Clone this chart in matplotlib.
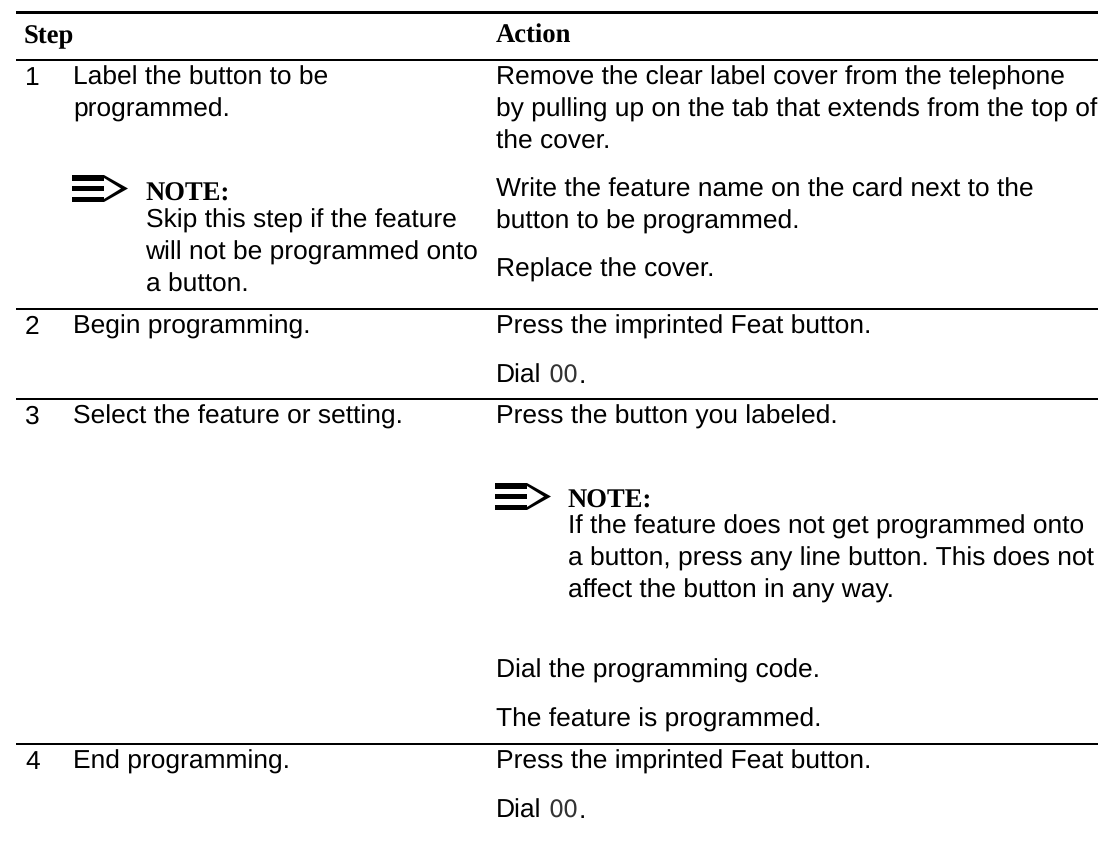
import matplotlib
matplotlib.use("Agg")
import matplotlib.pyplot as plt
from matplotlib.patches import Polygon, Rectangle

plt.rcParams["text.hinting"] = "no_hinting"
plt.rcParams["text.hinting_factor"] = 8

W, H = 1098, 868
SANS = "Liberation Sans"
SERIF = "Liberation Serif"

headers = ["Step", "Action"]
step_numbers = ["1", "2", "3", "4"]
step_texts = [
    "Label the button to be", "programmed.",
    "Begin programming.", "Select the feature or setting.", "End programming.",
]
left_note = ["Skip this step if the feature", "will not be programmed onto", "a button."]
action_texts = [
    "Remove the clear label cover from the telephone",
    "by pulling up on the tab that extends from the top of",
    "the cover.",
    "Write the feature name on the card next to the",
    "button to be programmed.",
    "Replace the cover.",
    "Press the imprinted Feat button.",
    "Press the button you labeled.",
    "Dial the programming code.",
    "The feature is programmed.",
    "Press the imprinted Feat button.",
]
right_note = [
    "If the feature does not get programmed onto",
    "a button, press any line button. This does not",
    "affect the button in any way.",
]
note_label = "NOTE:"
code = "00"

fig = plt.figure(figsize=(W / 100, H / 100), dpi=100)
ax = fig.add_axes([0, 0, 1, 1])
ax.set_xlim(0, W)
ax.set_ylim(H, 0)
ax.axis("off")

FS = 19.0
HEAD = 19.2
def t(x, y, s, family=SANS, weight="normal", size=FS, color="#000000"):
    ax.text(x, y, s, family=family, weight=weight, fontsize=size, va="baseline", ha="left", color=color)

def rule(y, lw):
    ax.add_patch(Rectangle((16, y - lw / 2), W - 16, lw, fc="black", ec="none"))

def arrow(x, y):
    for dy in (0, 10.5, 21.5):
        ax.add_patch(Rectangle((x, y + dy), 32, 5.5, fc="black", ec="none"))
    ax.add_patch(Polygon([(x + 32, y), (x + 56, y + 13.5), (x + 32, y + 27), (x + 32, y + 24),
                          (x + 49, y + 13.5), (x + 32, y + 3)], fc="black", ec="none"))

for y, lw in [(12.5, 3.5), (60, 2), (309, 2), (398.5, 2), (743.5, 2)]:
    rule(y, lw)

t(24, 43, headers[0], SERIF, "bold", HEAD)
t(495.5, 43, headers[1], SERIF, "bold", HEAD)

for n, y in zip(step_numbers, [85, 334, 424, 769]):
    t(25, y, n)

left_y = [85, 117, 334, 424, 769]
for s, y in zip(step_texts, left_y):
    t(73, y, s)

arrow(72, 175)
t(145, 201, note_label, SERIF, "bold", HEAD)
for s, y in zip(left_note, [228, 260, 292]):
    t(145.5, y, s)

action_y = [85, 117, 149, 197, 229, 277, 334, 424, 678, 727, 769]
for s, y in zip(action_texts, action_y):
    t(495.5, y, s)

for y in (383, 818):
    t(495.5, y, "Dial")
    t(548.5, y, code, "DejaVu Sans", size=17, color="#333333")
    t(579, y, ".")

arrow(495, 483)
t(567, 508, note_label, SERIF, "bold", HEAD)
for s, y in zip(right_note, [534, 566, 598]):
    t(568, y, s)

fig.savefig("out.png", dpi=100, facecolor="white")
